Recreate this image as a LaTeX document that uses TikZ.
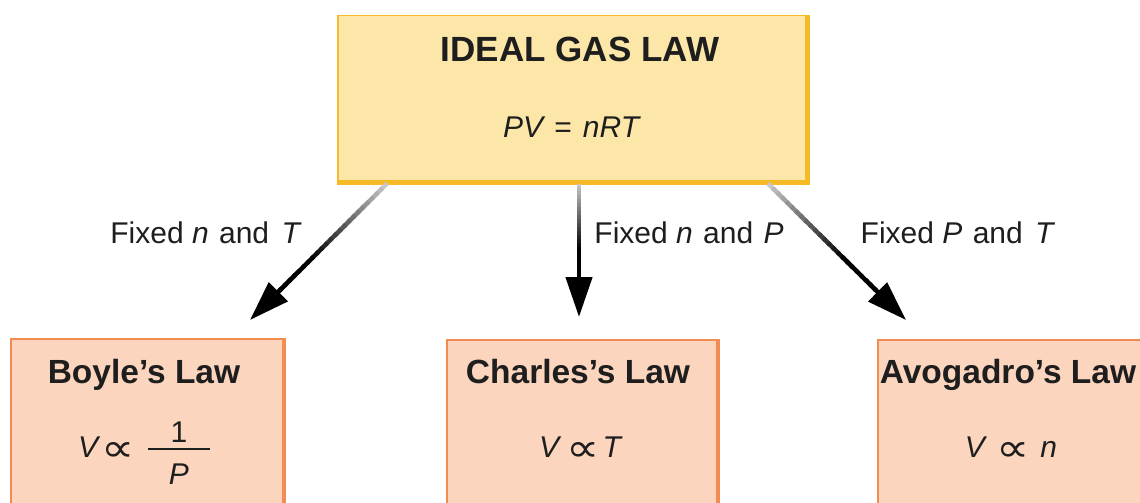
\documentclass[tikz,border=0pt]{standalone}
\usepackage{fontspec}
\setmainfont{Liberation Sans}
\newfontfamily\symf{DejaVu Sans}
\usetikzlibrary{arrows.meta,calc}
\definecolor{topfill}{RGB}{252,230,168}
\definecolor{topedge}{RGB}{245,186,38}
\definecolor{lawfill}{RGB}{251,213,190}
\definecolor{lawedge}{RGB}{242,140,82}
\definecolor{ink}{RGB}{30,30,30}
\newcommand{\prp}{{\symf\raisebox{-4pt}{\scalebox{1.55}[1.3]{∝}}}}
\newcommand{\gradarrow}[3]{%
  \foreach \i in {0,...,23}{%
    \pgfmathsetmacro{\ta}{\i/24}%
    \pgfmathsetmacro{\tb}{(\i+1.4)/24}%
    \pgfmathsetmacro{\dk}{min(100,22+78*\i/16)}%
    \draw[line width=4.5pt, black!\dk] ($(#1)!\ta!(#2)$) -- ($(#1)!\tb!(#2)$);
  }%
  \draw[line width=4.5pt, black, -{Triangle[length=40pt,width=26pt]}] (#2) -- (#3);
}
\begin{document}
\begin{tikzpicture}[x=1pt,y=-1pt,
  topbox/.style={draw=topedge, fill=topfill, line width=1.5pt, anchor=north west, inner sep=0pt},
  lawbox/.style={draw=lawedge, fill=lawfill, line width=1.5pt, anchor=north west, inner sep=0pt, minimum height=190pt},
  txt/.style={inner sep=0pt, anchor=base, text=ink},
  ttl/.style={txt, font=\fontsize{35}{40}\selectfont\bfseries},
  lawttl/.style={txt, font=\fontsize{33.5}{38}\selectfont\bfseries},
  frm/.style={txt, font=\fontsize{30}{36}\selectfont},
  lbl/.style={txt, font=\fontsize{30}{34}\selectfont},
]
\fill[white] (0,0) rectangle (1140,503);
\useasboundingbox (0,0) rectangle (1140,503);

% boxes
\node[topbox, minimum width=470pt, minimum height=167pt] (ideal) at (337,15) {};
\draw[topedge, line width=5pt] ([xshift=-1.5pt]ideal.north east) -- ([xshift=-1.5pt,yshift=1.5pt]ideal.south east) -- ([yshift=1.5pt]ideal.south west);

\node[lawbox, minimum width=273pt] (boyle) at (10,338) {};
\draw[lawedge, line width=4pt] ([xshift=-1pt]boyle.north east) -- ([xshift=-1pt]boyle.south east);
\node[lawbox, minimum width=271pt] (charles) at (446,339) {};
\draw[lawedge, line width=4pt] ([xshift=-1pt]charles.north east) -- ([xshift=-1pt]charles.south east);
\node[lawbox, minimum width=280pt] (avog) at (877,339) {};

% texts in top box
\node[ttl] (t0) at (580,62) {IDEAL GAS LAW};
\node[frm] (f0) at (572,137) {\textit{PV}\hspace{9pt}=\hspace{11pt}\textit{nRT}};

% law titles
\node[lawttl] (t1) at (144,383) {Boyle’s Law};
\node[lawttl] (t2) at (578,383) {Charles’s Law};
\node[lawttl] (t3) at (1008,383) {Avogadro’s Law};

% formulas
\node[frm, anchor=base west] (f1) at (78,457) {\textit{V}\hspace{1pt}\prp};
\node[frm] (f1n) at (179,442) {1};
\node[frm] (f1d) at (179,484) {\textit{P}};
\draw[ink, line width=1.5pt] (148,449) -- (210,449);
\node[frm] (f2) at (581,457) {\textit{V}\hspace{5pt}\prp\hspace{3pt}\textit{T}};
\node[frm] (f3) at (1011,457) {\textit{V}\hspace{9pt}\prp\hspace{11pt}\textit{n}};

% arrow coordinates
\coordinate (s1) at ($(ideal.south west)+(50,0)$);
\coordinate (s2) at ($(ideal.south west)+(242,0)$);
\coordinate (s3) at ($(ideal.south west)+(431,0)$);
\coordinate (e1) at ($(boyle.north west)+(240,-18)$);
\coordinate (e2) at ($(charles.north west)+(133,-22)$);
\coordinate (e3) at ($(avog.north west)+(29,-19)$);
\coordinate (m1) at ($(e1)!38pt!(s1)$);
\coordinate (m2) at ($(e2)!38pt!(s2)$);
\coordinate (m3) at ($(e3)!38pt!(s3)$);
\gradarrow{s1}{m1}{e1}
\gradarrow{s2}{m2}{e2}
\gradarrow{s3}{m3}{e3}

% labels
\node[lbl] (l1) at (206,243) {Fixed \textit{n}\hspace{2pt} and\hspace{4pt} \textit{T}};
\node[lbl] (l2) at (689,243) {Fixed \textit{n}\hspace{2pt} and\hspace{2pt} \textit{P}};
\node[lbl] (l3) at (958,243) {Fixed \textit{P}\hspace{2pt} and\hspace{4pt} \textit{T}};
\end{tikzpicture}
\end{document}
